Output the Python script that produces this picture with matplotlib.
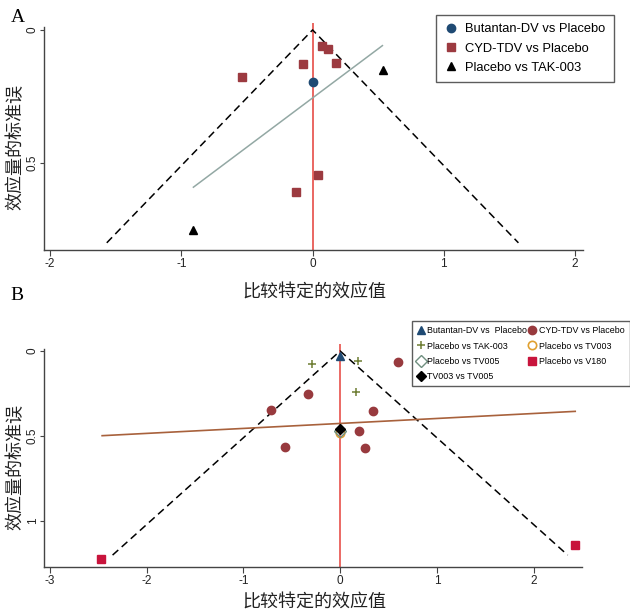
"""Comparison-adjusted funnel plots (panels A and B) for the dengue vaccine NMA."""
import matplotlib

matplotlib.use("Agg")
import matplotlib.pyplot as plt  # noqa: E402
import numpy as np  # noqa: E402

W, H = 630, 613

# ---- panel A data (effect, standard error) ----
butA_x = [0.0]
butA_se = [0.197]
cydA_x = [0.071, 0.114, -0.074, 0.175, -0.54, 0.043, -0.123]
cydA_se = [0.06, 0.07, 0.127, 0.126, 0.176, 0.547, 0.609]
takA_x = [0.54, -0.908]
takA_se = [0.15, 0.75]
regA_x = [-0.908, 0.532]
regA_se = [0.591, 0.059]
funnelA_se = 0.8

# ---- panel B data ----
butB_x = [0.0]
butB_se = [0.03]
cydB_x = [0.60, -0.33, -0.71, 0.34, 0.19, -0.57, 0.26]
cydB_se = [0.067, 0.253, 0.347, 0.353, 0.473, 0.565, 0.569]
takB_x = [-0.29, 0.18, 0.16]
takB_se = [0.075, 0.059, 0.241]
tv003_x = [0.0]
tv003_se = [0.48]
tv005_x = [0.0]
tv005_se = [0.47]
tv35_x = [0.0]
tv35_se = [0.46]
v180_x = [-2.47, 2.43]
v180_se = [1.225, 1.139]
regB_x = [-2.46, 2.43]
regB_se = [0.498, 0.355]
funnelB_se = 1.2

XLABEL = "比较特定的效应值"
YLABEL = "效应量的标准误"
CJK = ["Noto Sans CJK SC", "DejaVu Sans"]

plt.rcParams["font.family"] = ["Liberation Sans", "DejaVu Sans"]
plt.rcParams["axes.unicode_minus"] = False
AX_COL = "#444444"


def px_rect(left, top, right, bottom):
    return [left / W, 1 - bottom / H, (right - left) / W, (bottom - top) / H]


def style_axes(ax, xlim, ylim, xticks, yticks, yticklabels):
    ax.set_xlim(*xlim)
    ax.set_ylim(*ylim)
    ax.set_xticks(xticks)
    ax.set_yticks(yticks)
    ax.set_yticklabels(yticklabels, rotation=90, va="center")
    for s in ("top", "right"):
        ax.spines[s].set_visible(False)
    for s in ("left", "bottom"):
        ax.spines[s].set_color(AX_COL)
        ax.spines[s].set_linewidth(1.0)
    ax.spines["left"].set_bounds(ylim[0], -0.01)
    ax.tick_params(direction="out", length=4, width=0.8, colors=AX_COL,
                   labelsize=8.5, labelcolor="#222222", pad=2)
    ax.tick_params(axis="y", length=3, pad=0.5)
    ax.patch.set_alpha(0)


def funnel(ax, se_max):
    se = np.array([se_max, 0.0, se_max])
    ax.plot(1.96 * se * np.array([-1, 0, 1]), se, color="black", lw=1.1,
            dashes=(5, 3), zorder=2)


fig = plt.figure(figsize=(W / 100, H / 100), dpi=100)

# ---------------- panel A ----------------
axA = fig.add_axes(px_rect(43.5, 23, 583, 250))
style_axes(axA, (-2.05, 2.06), (0.827, -0.026), [-2, -1, 0, 1, 2],
           [0, 0.5], ["0", "0.5"])
funnel(axA, funnelA_se)
axA.axvline(0, color="#e85a55", lw=1.3, zorder=1)
axA.plot(regA_x, regA_se, color="#93a8a4", lw=1.1, zorder=2)
hA1, = axA.plot(butA_x, butA_se, "o", ms=6, color="#1f4a73", ls="none",
                zorder=3, label="Butantan-DV vs Placebo")
hA2, = axA.plot(cydA_x, cydA_se, "s", ms=6, color="#9c3a40", ls="none",
                zorder=3, label="CYD-TDV vs Placebo")
hA3, = axA.plot(takA_x, takA_se, "^", ms=6, color="black", ls="none",
                zorder=3, label="Placebo vs TAK-003")
legA = fig.legend(handles=[hA1, hA2, hA3], loc="upper left",
                  bbox_to_anchor=(436 / W, 1 - 15 / H), fontsize=9.3,
                  frameon=True, fancybox=False, edgecolor="#333333",
                  borderpad=0.65, labelspacing=0.55, handlelength=1.0,
                  handletextpad=0.6, borderaxespad=0)
legA.get_frame().set_linewidth(1.0)

# ---------------- panel B ----------------
axB = fig.add_axes(px_rect(43.5, 344, 582, 567))
style_axes(axB, (-3.066, 2.5), (1.27, -0.041), [-3, -2, -1, 0, 1, 2],
           [0, 0.5, 1], ["0", "0.5", "1"])
funnel(axB, funnelB_se)
axB.axvline(0, color="#e8504a", lw=1.2, zorder=1)
axB.plot(regB_x, regB_se, color="#a8613c", lw=1.2, zorder=2)
hB1, = axB.plot(butB_x, butB_se, "^", ms=6, color="#1f4a73", ls="none",
                zorder=4, label="Butantan-DV vs  Placebo")
hB2, = axB.plot(cydB_x, cydB_se, "o", ms=6, color="#983a3e", ls="none",
                zorder=3, label="CYD-TDV vs Placebo")
hB3, = axB.plot(takB_x, takB_se, "+", ms=6, mew=1.1, color="#6e7d33",
                ls="none", zorder=3, label="Placebo vs TAK-003")
hB4, = axB.plot(tv003_x, tv003_se, "o", ms=6, mfc="none", mew=1.2,
                color="#e0a030", ls="none", zorder=3, label="Placebo vs TV003")
hB5, = axB.plot(tv005_x, tv005_se, "D", ms=6, mfc="none", mew=1.0,
                color="#6f8f80", ls="none", zorder=3, label="Placebo vs TV005")
hB6, = axB.plot(tv35_x, tv35_se, "D", ms=5.5, color="black", ls="none",
                zorder=4, label="TV003 vs TV005")
hB7, = axB.plot(v180_x, v180_se, "s", ms=6, color="#c8143c", ls="none",
                zorder=3, label="Placebo vs V180")
legB = fig.legend(handles=[hB1, hB3, hB5, hB6, hB2, hB4, hB7], ncol=2,
                  loc="upper left", bbox_to_anchor=(412 / W, 1 - 321 / H),
                  fontsize=6.4, frameon=True, fancybox=False,
                  edgecolor="#333333", borderpad=0.6, labelspacing=0.7,
                  handlelength=0.8, handletextpad=0.3, columnspacing=0.2,
                  borderaxespad=0)
legB.get_frame().set_linewidth(1.0)

# ---------------- labels ----------------
fig.text(18 / W, 1 - 17 / H, "A", family="Liberation Serif", fontsize=14,
         ha="center", va="center")
fig.text(17 / W, 1 - 296 / H, "B", family="Liberation Serif", fontsize=14,
         ha="center", va="center")
fig.text(314 / W, 1 - 293 / H, XLABEL, family=CJK, fontsize=13,
         ha="center", va="center", color="#222222")
fig.text(314 / W, 1 - 603 / H, XLABEL, family=CJK, fontsize=13,
         ha="center", va="center", color="#222222")
fig.text(15 / W, 1 - 147 / H, YLABEL, family=CJK, fontsize=13, rotation=90,
         ha="center", va="center", color="#222222")
fig.text(15 / W, 1 - 467 / H, YLABEL, family=CJK, fontsize=13, rotation=90,
         ha="center", va="center", color="#222222")

fig.savefig("out.png", dpi=100)
